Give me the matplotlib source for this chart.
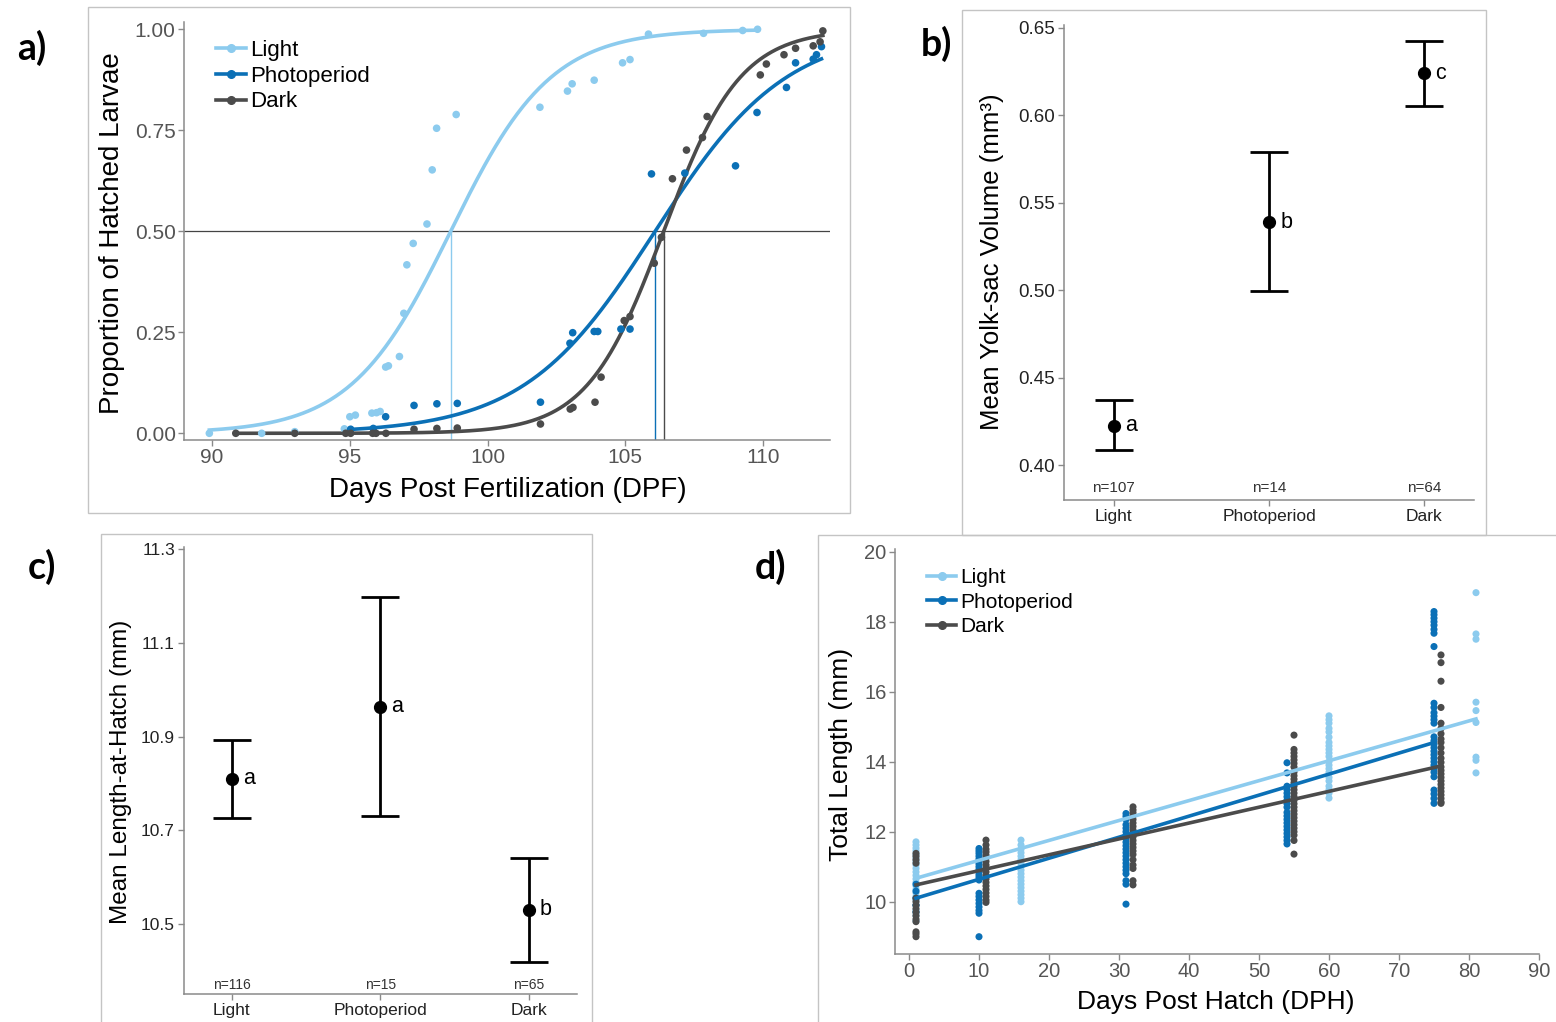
import numpy as np
import matplotlib
matplotlib.use("Agg")
import matplotlib.pyplot as plt
from matplotlib.lines import Line2D
from matplotlib.patches import Rectangle

plt.rcParams['font.family'] = ['Liberation Sans', 'DejaVu Sans']

W, H = 1556, 1022
C_LIGHT = '#8ccbee'
C_PHOTO = '#0b70b6'
C_DARK = '#4b4b4b'
SPINE = '#8a8a8a'

groups = ['Light', 'Photoperiod', 'Dark']

# ---------------- (a) hatching proportions ----------------
a_light_dpf = [89.9, 91.8, 93.0, 94.8, 95.0, 95.2, 95.8, 95.97, 96.1, 96.3, 96.4, 96.8,
               96.96, 97.07, 97.3, 97.8, 97.99, 98.15, 98.86, 101.9, 102.9, 103.07,
               103.87, 104.9, 105.17, 105.84, 107.84, 109.26, 109.8]
a_light_prop = [0.0, 0.0, 0.004, 0.011, 0.041, 0.045, 0.05, 0.051, 0.054, 0.164, 0.167, 0.19,
                0.297, 0.417, 0.47, 0.518, 0.652, 0.755, 0.789, 0.807, 0.847, 0.865,
                0.874, 0.917, 0.925, 0.988, 0.99, 0.997, 1.0]
a_photo_dpf = [95.03, 95.85, 96.3, 97.33, 98.16, 98.9, 101.92, 102.99, 103.09, 103.87, 104.0,
               104.84, 105.17, 105.95, 107.16, 109.0, 109.78, 110.85, 111.18, 111.82,
               111.94, 112.12]
a_photo_prop = [0.01, 0.012, 0.041, 0.069, 0.073, 0.074, 0.077, 0.223, 0.249, 0.252, 0.252,
                0.258, 0.258, 0.642, 0.644, 0.662, 0.794, 0.856, 0.917, 0.926, 0.937, 0.957]
a_dark_dpf = [90.86, 93.0, 94.85, 95.03, 95.83, 95.95, 96.31, 97.33, 98.16, 98.9, 101.92,
              103.0, 103.1, 103.9, 104.12, 104.96, 105.17, 106.05, 106.31, 106.71, 107.22,
              107.8, 107.97, 109.9, 110.12, 110.76, 111.18, 111.82, 112.07, 112.17]
a_dark_prop = [0.0, 0.0, 0.0, 0.0, 0.0, 0.0, 0.0, 0.01, 0.012, 0.013, 0.023,
               0.06, 0.064, 0.077, 0.139, 0.279, 0.289, 0.421, 0.485, 0.63, 0.701,
               0.732, 0.784, 0.887, 0.914, 0.937, 0.953, 0.959, 0.969, 0.996]
# fitted logistic models: midpoint (DPF at 50% hatch) and slope
a_midpoint = [98.66, 106.08, 106.39]
a_slope = [0.55, 0.42, 0.72]

# ---------------- (b) yolk-sac volume ----------------
b_mean = [0.4226, 0.539, 0.624]
b_low = [0.4087, 0.4997, 0.6054]
b_high = [0.4371, 0.579, 0.6426]
b_n = [107, 14, 64]
b_letters = ['a', 'b', 'c']

# ---------------- (c) length at hatch ----------------
c_mean = [10.81, 10.964, 10.531]
c_low = [10.726, 10.731, 10.418]
c_high = [10.893, 11.199, 10.642]
c_n = [116, 15, 65]
c_letters = ['a', 'a', 'b']

# ---------------- (d) growth after hatch ----------------
d_light_01 = [11.71, 11.62, 11.53, 11.45, 11.35, 11.25, 11.15, 11.05, 10.95, 10.85, 10.75,
              10.65, 10.55, 10.45, 10.35, 10.25, 10.15, 10.05, 9.9, 9.75, 9.6, 9.45]
d_light_16 = [11.76, 11.62, 11.5, 11.4, 11.3, 11.2, 11.1, 11.0, 10.9, 10.8, 10.7, 10.6,
              10.5, 10.4, 10.3, 10.2, 10.1, 10.0]
d_light_60 = [15.31, 15.2, 15.1, 14.95, 14.85, 14.7, 14.55, 14.45, 14.35, 14.25, 14.15,
              14.0, 13.9, 13.8, 13.7, 13.55, 13.45, 13.3, 13.2, 13.1, 12.96]
d_light_81 = [18.83, 17.65, 17.5, 15.7, 15.46, 15.12, 14.13, 14.04, 13.68]

d_photo_01 = [10.5, 10.3, 10.1, 9.9, 9.7]
d_photo_10 = [11.52, 11.45, 11.38, 11.3, 11.22, 11.15, 11.08, 11.0, 10.92, 10.85, 10.77,
              10.7, 10.62, 10.24, 10.15, 10.05, 9.95, 9.85, 9.75, 9.67, 9.0]
d_photo_31 = [12.52, 12.44, 12.35, 12.2, 12.1, 12.0, 11.9, 11.8, 11.7, 11.6, 11.5, 11.4,
              11.3, 11.2, 11.1, 11.0, 10.9, 10.8, 10.6, 10.5, 9.93]
d_photo_54 = [13.97, 13.68, 13.3, 13.2, 13.1, 13.0, 12.9, 12.8, 12.7, 12.55, 12.45, 12.35,
              12.25, 12.15, 12.05, 11.95, 11.85, 11.75, 11.65]
d_photo_75 = [18.29, 18.2, 18.1, 18.0, 17.9, 17.78, 17.67, 17.29, 15.67, 15.55, 15.4, 15.3,
              15.2, 15.1, 14.71, 14.6, 14.5, 14.4, 14.3, 14.2, 14.1, 14.0, 13.9, 13.8,
              13.7, 13.57, 13.19, 13.08, 12.95, 12.81]

d_dark_01 = [11.38, 11.3, 11.2, 11.1, 10.1, 10.0, 9.9, 9.8, 9.7, 9.6, 9.5, 9.43, 9.14,
             9.08, 9.0]
d_dark_11 = [11.76, 11.62, 11.5, 11.42, 11.33, 11.25, 11.15, 11.05, 10.95, 10.85, 10.75,
             10.65, 10.55, 10.45, 10.35, 10.25, 10.15, 10.05, 9.98]
d_dark_32 = [12.71, 12.62, 12.54, 12.45, 12.35, 12.25, 12.15, 12.05, 11.95, 11.85, 11.75,
             11.65, 11.55, 11.45, 11.35, 11.2, 11.05, 10.95, 10.6, 10.48]
d_dark_55 = [14.76, 14.35, 14.25, 14.15, 14.05, 13.95, 13.85, 13.7, 13.6, 13.5, 13.4, 13.3,
             13.2, 13.1, 13.0, 12.9, 12.8, 12.7, 12.6, 12.5, 12.4, 12.3, 12.2, 12.1, 12.0,
             11.9, 11.75, 11.36]
d_dark_76 = [17.05, 16.83, 16.3, 15.55, 15.1, 14.95, 14.8, 14.65, 14.55, 14.4, 14.25, 14.1,
             13.98, 13.85, 13.75, 13.65, 13.55, 13.45, 13.35, 13.25, 13.15, 13.05, 12.95,
             12.85, 12.81]

d_light_cols = [(1, d_light_01), (16, d_light_16), (60, d_light_60), (81, d_light_81)]
d_photo_cols = [(1, d_photo_01), (10, d_photo_10), (31, d_photo_31), (54, d_photo_54),
                (75, d_photo_75)]
d_dark_cols = [(1, d_dark_01), (11, d_dark_11), (32, d_dark_32), (55, d_dark_55),
               (76, d_dark_76)]
# fitted linear regressions: intercept, slope
d_intercept = [10.613, 10.04, 10.435]
d_slope = [0.0569, 0.0601, 0.0453]

# ---------------------------------------------------------------
fig = plt.figure(figsize=(W / 100, H / 100), dpi=100)


def px_axes(left, top, right, bottom):
    return fig.add_axes([left / W, 1 - bottom / H, (right - left) / W, (bottom - top) / H])


def fx(x):
    return x / W


def fy(y):
    return 1 - y / H


def style(ax, tick_size, tick_color, tick_len=4.0):
    for s in ('top', 'right'):
        ax.spines[s].set_visible(False)
    for s in ('left', 'bottom'):
        ax.spines[s].set_color(SPINE)
        ax.spines[s].set_linewidth(1.1)
    ax.tick_params(direction='out', length=tick_len, width=1.0, color=SPINE,
                   labelsize=tick_size, labelcolor=tick_color, pad=2)


def frame(left, top, right, bottom):
    fig.patches.append(Rectangle((fx(left), fy(bottom)), fx(right - left), (bottom - top) / H,
                                 transform=fig.transFigure, fill=False,
                                 edgecolor='#c4c4c4', linewidth=1.0))


frame(88, 7, 850, 513)
frame(962, 10, 1486, 535)
frame(101, 534, 592, 1030)
frame(818, 535, 1562, 1030)

for lab, (x, y) in zip(['a)', 'b)', 'c)', 'd)'], [(32, 48), (936, 44), (42, 567), (770, 567)]):
    fig.text(fx(x), fy(y), lab, fontsize=27, fontweight='bold', family=['Lato', 'DejaVu Sans'],
             ha='center', va='center')

colors = [C_LIGHT, C_PHOTO, C_DARK]

# ---- panel a ----
ax = px_axes(184, 22, 830, 440)
style(ax, 15, '#555555')
ax.set_xlim(88.98, 112.43)
ax.set_ylim(-0.0166, 1.018)
ax.set_xticks([90, 95, 100, 105, 110])
ax.set_yticks([0, 0.25, 0.5, 0.75, 1.0])
ax.set_yticklabels(['0.00', '0.25', '0.50', '0.75', '1.00'])
ax.axhline(0.5, color='#444444', lw=0.9, zorder=1)
a_x = [a_light_dpf, a_photo_dpf, a_dark_dpf]
a_y = [a_light_prop, a_photo_prop, a_dark_prop]
for i in range(3):
    ax.vlines(a_midpoint[i], ax.get_ylim()[0], 0.5, color=colors[i], lw=1.0, zorder=1)
    xs = np.linspace(min(a_x[i]), max(a_x[i]), 300)
    ys = 1.0 / (1.0 + np.exp(-a_slope[i] * (xs - a_midpoint[i])))
    ax.plot(xs, ys, color=colors[i], lw=2.6, zorder=2)
    ax.scatter(a_x[i], a_y[i], s=30, color=colors[i], edgecolors='none', zorder=3)
handles = [Line2D([0], [0], color=c, lw=2.6, marker='o', ms=5.5) for c in colors]
ax.legend(handles, groups, loc='upper left', bbox_to_anchor=(fx(216), fy(40)),
          bbox_transform=fig.transFigure, frameon=False, fontsize=16, handlelength=1.35,
          handletextpad=0.2, labelspacing=0.21, borderpad=0, borderaxespad=0)
fig.text(fx(508), fy(490), 'Days Post Fertilization (DPF)', fontsize=20, ha='center', va='center')
fig.text(fx(112), fy(233), 'Proportion of Hatched Larvae', fontsize=20, rotation=90,
         ha='center', va='center')


def means_panel(ax, mean, low, high, ns, letters, nlevel, letter_size, n_size):
    xs = np.arange(3)
    mean = np.array(mean)
    yerr = [mean - np.array(low), np.array(high) - mean]
    ax.errorbar(xs, mean, yerr=yerr, fmt='o', color='black', ms=8.5, elinewidth=2.0,
                capsize=14, capthick=2.0)
    for i in range(3):
        ax.annotate(letters[i], (xs[i], mean[i]), xytext=(8, 0), textcoords='offset points',
                    ha='left', va='center', fontsize=letter_size)
        ax.text(xs[i], nlevel, f'n={ns[i]}', ha='center', va='center', fontsize=n_size,
                color='#333333')
    ax.set_xticks(xs)
    ax.set_xticklabels(groups)
    ax.set_xlim(-0.32, 2.32)


# ---- panel b ----
ax = px_axes(1064, 24.5, 1474, 500)
style(ax, 13.5, '#222222', tick_len=4.5)
ax.set_ylim(0.38, 0.652)
ax.set_yticks([0.40, 0.45, 0.50, 0.55, 0.60, 0.65])
ax.set_yticklabels(['0.40', '0.45', '0.50', '0.55', '0.60', '0.65'])
means_panel(ax, b_mean, b_low, b_high, b_n, b_letters, 0.3866, 15.5, 11)
ax.tick_params(axis='x', labelsize=12.5)
fig.text(fx(992), fy(262), 'Mean Yolk-sac Volume (mm³)', fontsize=18.5, rotation=90,
         ha='center', va='center')

# ---- panel c ----
ax = px_axes(184, 547, 576.5, 994)
style(ax, 12.5, '#222222', tick_len=4.5)
ax.set_ylim(10.3506, 11.305)
ax.set_yticks([10.5, 10.7, 10.9, 11.1, 11.3])
means_panel(ax, c_mean, c_low, c_high, c_n, c_letters, 10.37, 15.5, 10)
ax.tick_params(axis='x', labelsize=12.5)
fig.text(fx(121), fy(772), 'Mean Length-at-Hatch (mm)', fontsize=17.5, rotation=90,
         ha='center', va='center')

# ---- panel d ----
ax = px_axes(895, 549, 1539, 954)
style(ax, 14.5, '#555555')
ax.set_xlim(-2, 90)
ax.set_ylim(8.506, 20.077)
ax.set_xticks(range(0, 91, 10))
ax.set_yticks([10, 12, 14, 16, 18, 20])
d_sets = [d_light_cols, d_photo_cols, d_dark_cols]
for i in range(3):
    xs = np.concatenate([[d] * len(v) for d, v in d_sets[i]])
    ys = np.concatenate([v for d, v in d_sets[i]])
    ax.scatter(xs, ys, s=26, color=colors[i], edgecolors='none', zorder=3)
for i in range(3):
    days = [d for d, v in d_sets[i]]
    lx = np.array([min(days), max(days)])
    ax.plot(lx, d_intercept[i] + d_slope[i] * lx, color=colors[i], lw=2.6, zorder=4)
ax.legend(handles, groups, loc='upper left', bbox_to_anchor=(fx(927), fy(568)),
          bbox_transform=fig.transFigure, frameon=False, fontsize=15, handlelength=1.4,
          handletextpad=0.2, labelspacing=0.27, borderpad=0, borderaxespad=0)
fig.text(fx(1216), fy(1002), 'Days Post Hatch (DPH)', fontsize=19, ha='center', va='center')
fig.text(fx(841), fy(754), 'Total Length (mm)', fontsize=19, rotation=90,
         ha='center', va='center')

fig.savefig('out.png', dpi=100)
